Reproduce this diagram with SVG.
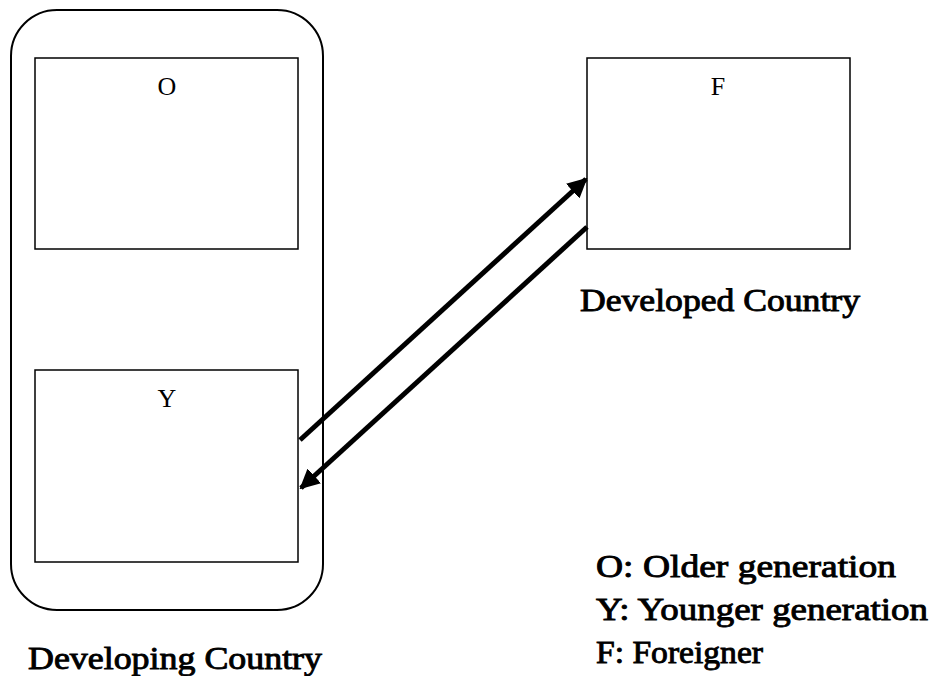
<svg xmlns="http://www.w3.org/2000/svg" width="934" height="676" viewBox="0 0 934 676">
  <defs>
    <marker id="arrowhead" viewBox="0 0 10 10" refX="9" refY="5" markerWidth="4" markerHeight="4" orient="auto" markerUnits="strokeWidth">
      <path d="M0,0 L10,5 L0,10 z" fill="#000"/>
    </marker>
    <style>
      .frame { fill: none; stroke: #000; stroke-width: 2; }
      .box { fill: #fff; stroke: #000; stroke-width: 1.5; }
      .letter { font-family: "Liberation Serif", "Times New Roman", serif; font-size: 26px; text-anchor: middle; fill: #000; }
      .caption { font-family: "Liberation Serif", "Times New Roman", serif; font-size: 31px; fill: #000; stroke: #000; stroke-width: 0.9; }
      .link { stroke: #000; stroke-width: 5; fill: none; marker-end: url(#arrowhead); }
    </style>
  </defs>
  <rect width="934" height="676" fill="#fff"/>

  <!-- developing country enclosure -->
  <g id="developing-country">
    <rect class="frame" x="11" y="10" width="312" height="600" rx="46" ry="46"/>
    <text class="caption" x="28" y="669" textLength="294" lengthAdjust="spacingAndGlyphs">Developing Country</text>
  </g>

  <g id="node-O">
    <rect class="box" x="35" y="58" width="263" height="191"/>
    <text class="letter" x="167" y="95">O</text>
  </g>

  <g id="node-Y">
    <rect class="box" x="35" y="370" width="263" height="192"/>
    <text class="letter" x="167" y="407">Y</text>
  </g>

  <g id="node-F">
    <rect class="box" x="587" y="58" width="263" height="191"/>
    <text class="letter" x="718" y="95">F</text>
    <text class="caption" x="580" y="311" textLength="280" lengthAdjust="spacingAndGlyphs">Developed Country</text>
  </g>

  <g id="connectors">
    <line class="link" x1="300" y1="440" x2="586" y2="179"/>
    <line class="link" x1="587" y1="227" x2="301" y2="488"/>
  </g>

  <g id="legend">
    <text class="caption" x="596" y="577" textLength="300" lengthAdjust="spacingAndGlyphs">O: Older generation</text>
    <text class="caption" x="596" y="620" textLength="332" lengthAdjust="spacingAndGlyphs">Y: Younger generation</text>
    <text class="caption" x="596" y="663" textLength="167" lengthAdjust="spacingAndGlyphs">F: Foreigner</text>
  </g>
</svg>
